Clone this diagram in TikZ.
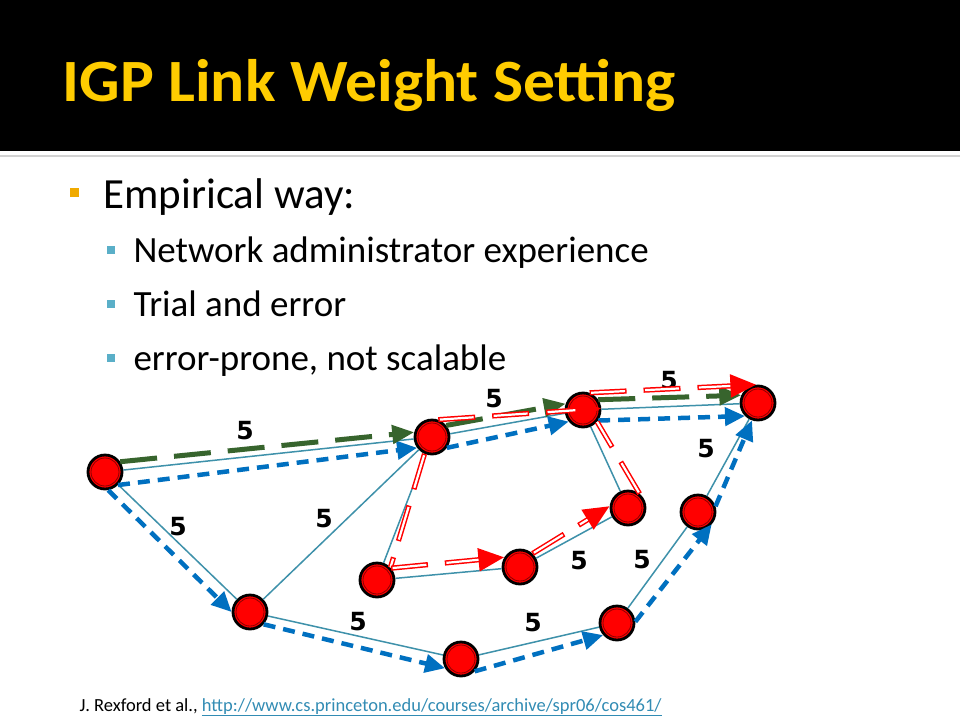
\documentclass[tikz,border=0pt]{standalone}
\usepackage{fontspec}
\setmainfont{Carlito}
\newfontfamily\wtfont{DejaVu Sans}
\usetikzlibrary{arrows.meta,positioning}
\definecolor{titleyellow}{RGB}{255,204,0}
\definecolor{linkteal}{RGB}{62,145,170}
\definecolor{pathblue}{RGB}{0,112,192}
\definecolor{pathgreen}{RGB}{55,100,45}
\definecolor{bulletorange}{RGB}{240,170,0}
\definecolor{bulletteal}{RGB}{90,175,200}
\definecolor{urlblue}{RGB}{50,140,180}
\tikzset{
  router/.style={circle,draw=black,line width=2.8pt,fill=red,minimum size=34pt,inner sep=0pt,
    path picture={\draw[red!55!black,line width=0.8pt] (path picture bounding box.center) circle (14pt);}},
  link/.style={draw=linkteal,line width=1.5pt},
  bluepath/.style={draw=pathblue,line width=4.5pt,dash pattern=on 12pt off 8pt,
    -{Triangle[length=20pt,width=18pt]}},
  greenpath/.style={draw=pathgreen,line width=5pt,dash pattern=on 37pt off 17pt,
    -{Triangle[length=22pt,width=18pt]}},
  redpath/.style={draw=red,line width=5.2pt,dash pattern=on 37pt off 17pt,
    postaction={draw=white,line width=2.2pt,dash pattern=on 34pt off 20pt,dash phase=52.5pt,-,shorten >=#1}},
  redpath/.default=0pt,
  redtip/.style={-{Triangle[length=26pt,width=22pt,color=red,fill=red]}},
  wt/.style={font=\wtfont\bfseries\fontsize{25}{25}\selectfont,inner sep=0pt},
  sqbullet/.style={inner sep=0pt,minimum size=#1},
}
\begin{document}
\begin{tikzpicture}[x=1pt,y=-1pt]
\useasboundingbox (0,0) rectangle (960,720);
\fill[white] (0,0) rectangle (960,720);
\fill[black] (0,0) rectangle (960,151);
\draw[gray!35,line width=2pt] (0,156) -- (960,156);
% title and bullets
\node[anchor=base west,text=titleyellow,font=\fontsize{60}{61}\selectfont\bfseries,xscale=1.06,transform shape] (title) at (59,101) {IGP Link Weight Setting};
\node[sqbullet=9pt,fill=bulletorange] (b0) at (74,192) {};
\node[anchor=base west,font=\fontsize{43}{44}\selectfont] (way) at (100,208) {Empirical way:};
\node[sqbullet=8pt,fill=bulletteal] (b1) at (111,250) {};
\node[anchor=base west,font=\fontsize{37}{38}\selectfont] (admin) at (130,262) {Network administrator experience};
\node[sqbullet=8pt,fill=bulletteal] (b2) at (111,304) {};
\node[anchor=base west,font=\fontsize{37}{38}\selectfont] (trial) at (130,316) {Trial and error};
\node[sqbullet=8pt,fill=bulletteal] (b3) at (111,358) {};
\node[anchor=base west,font=\fontsize{37}{38}\selectfont] (prone) at (130,370) {error-prone, not scalable};
\node[anchor=base west,font=\fontsize{18.5}{19}\selectfont] (ref) at (76,711) {J. Rexford et al., {\color{urlblue}\underline{http://www.cs.princeton.edu/courses/archive/spr06/cos461/}}};
% routers
\node[router] (A) at (105,472) {};
\node[router] (B) at (432,437) {};
\node[router] (C) at (583,410) {};
\node[router] (D) at (758,403) {};
\node[router] (E) at (250,612) {};
\node[router] (F) at (377,580) {};
\node[router] (G) at (520,567) {};
\node[router] (H) at (628,508) {};
\node[router] (I) at (698,512) {};
\node[router] (J) at (461,659) {};
\node[router] (K) at (617,623) {};
% links
\path[link] (A) edge (B);
\path[link] (A) edge (E);
\path[link] (E) edge (B);
\path[link] (E) edge (J);
\path[link] (F) edge (B);
\path[link] (B) edge (C);
\path[link] (C) edge (D);
\path[link] (C) edge (H);
\path[link] (F) edge (G);
\path[link] (G) edge (H);
\path[link] (J) edge (K);
\path[link] (K) edge (I);
\path[link] (I) edge (D);
% weights
\node[wt] (w1) at (245,431) {5};
\node[wt] (w2) at (178,527) {5};
\node[wt] (w3) at (324,519) {5};
\node[wt] (w4) at (494,399) {5};
\node[wt] (w5) at (669,381) {5};
\node[wt] (w6) at (706,449) {5};
\node[wt] (w7) at (358,622) {5};
\node[wt] (w8) at (533,623) {5};
\node[wt] (w9) at (579,561) {5};
\node[wt] (w10) at (642,560) {5};
% shortest paths
\draw[bluepath] (A.-45) -- (B.216);
\draw[bluepath] (B.-36) -- (C.219);
\draw[bluepath] (C.-35) -- (D.225);
\draw[bluepath] (A.-80) -- (E.180);
\draw[bluepath] (E.-42) -- (J.210);
\draw[bluepath] (J.-42) -- (K.221);
\draw[bluepath] (K.4) -- (I.-42);
\draw[bluepath] (I.18) -- (D.251);
\draw[greenpath] (A.34) -- (B.165);
\draw[greenpath] (B.39) -- (C.160);
\draw[greenpath] (C.34) -- (D.155);
\draw[redpath] (B.246) -- (F.43);
\draw[redpath] (H.51) -- (C.-40);
\draw[redpath=26pt,redtip] (F.40) -- (G.148);
\draw[redpath=26pt,redtip] (G.47) -- (H.174);
\draw[redpath=26pt,redtip] (B.70) -- (C.5);
\draw[redpath=26pt,redtip] (C.69) -- (D.95);
\end{tikzpicture}
\end{document}
